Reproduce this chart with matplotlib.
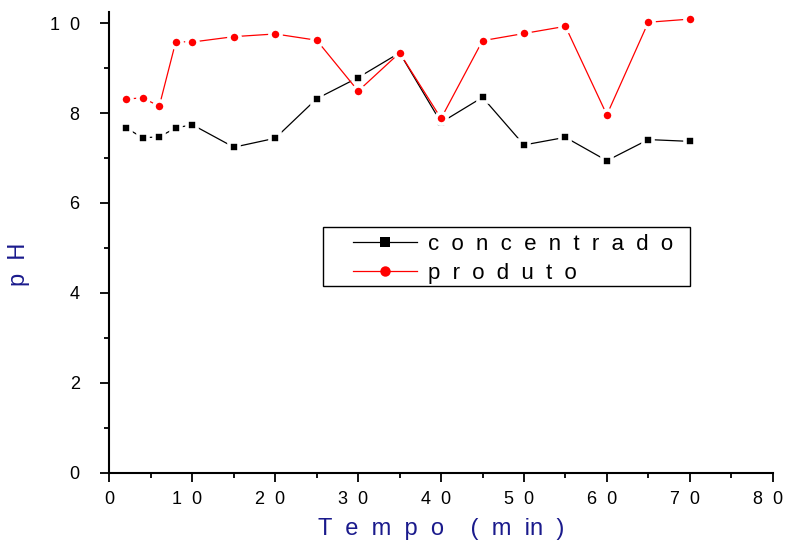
import matplotlib
matplotlib.use("Agg")
import matplotlib.pyplot as plt
from matplotlib.patches import Rectangle
from matplotlib.ticker import MultipleLocator, FixedLocator

# tempo (min) e pH medidos
tempo = [2, 4, 6, 8, 10, 15, 20, 25, 30, 35, 40, 45, 50, 55, 60, 65, 70]
ph_concentrado = [7.67, 7.45, 7.47, 7.67, 7.74, 7.24, 7.44, 8.32, 8.79, 9.34,
                  7.79, 8.35, 7.29, 7.46, 6.94, 7.41, 7.37]
ph_produto = [8.31, 8.34, 8.15, 9.59, 9.58, 9.70, 9.76, 9.62, 8.49, 9.34,
              7.88, 9.61, 9.77, 9.93, 7.96, 10.02, 10.09]

x_ticks = [0, 10, 20, 30, 40, 50, 60, 70, 80]
y_ticks = [0, 2, 4, 6, 8, 10]


def espacado(s, fim=""):
    # letras espaçadas, como no gráfico original do Origin
    return "  ".join(s) + fim


plt.rcParams["font.family"] = ["Liberation Sans", "DejaVu Sans"]

fig = plt.figure(figsize=(7.86, 5.42), dpi=100)
ax = fig.add_axes([0.1393, 0.128, 0.8437, 0.850])

# marcadores com borda branca para abrir o espaço entre linha e ponto
ax.plot(tempo, ph_concentrado, color="black", lw=0.9, marker="s",
        ms=7.5, mfc="black", mec="white", mew=2.6, label=espacado("concentrado"))
ax.plot(tempo, ph_produto, color="red", lw=0.9, marker="o",
        ms=8.0, mfc="red", mec="white", mew=2.6, label=espacado("produto"))

ax.set_xlim(0, 80)
ax.set_ylim(0, 10.25)
ax.xaxis.set_major_locator(FixedLocator(x_ticks))
ax.yaxis.set_major_locator(FixedLocator(y_ticks))
ax.xaxis.set_minor_locator(MultipleLocator(5))
ax.yaxis.set_minor_locator(MultipleLocator(1))
ax.set_xticklabels([espacado(str(v), "  " if v >= 10 else "") for v in x_ticks])
ax.set_yticklabels([espacado(str(v)) for v in y_ticks])

for side in ("top", "right"):
    ax.spines[side].set_visible(False)
for side in ("left", "bottom"):
    ax.spines[side].set_linewidth(1.5)

ax.tick_params(which="major", direction="out", length=6.5, width=1.3,
               labelsize=13)
ax.tick_params(axis="x", which="major", pad=7)
ax.tick_params(axis="y", which="major", pad=15)
ax.tick_params(which="minor", direction="out", length=3.5, width=1.3)

ax.set_xlabel("T  e  m  p  o    (  m  in  )", color="#1a1a8c",
              fontsize=17, labelpad=7)
ax.set_ylabel("p  H", color="#1a1a8c", fontsize=17)
ax.yaxis.set_label_coords(-0.12, 0.453)

# caixa da legenda desenhada à parte
ax.add_patch(Rectangle((0.322, 0.405), 0.5536, 0.128, transform=ax.transAxes,
                       fill=False, edgecolor="black", lw=1.0, zorder=5))
leg = ax.legend(loc="upper left", bbox_to_anchor=(0.367, 0.518), frameon=False,
                fontsize=16, handlelength=2.9, handletextpad=0.5, borderpad=0,
                borderaxespad=0, labelspacing=0.35)
for h, ms in zip(leg.legend_handles, (7, 7.5)):
    h.set_markeredgecolor(h.get_color())
    h.set_markeredgewidth(0)
    h.set_markersize(ms)

fig.savefig("out.png", dpi=100)
